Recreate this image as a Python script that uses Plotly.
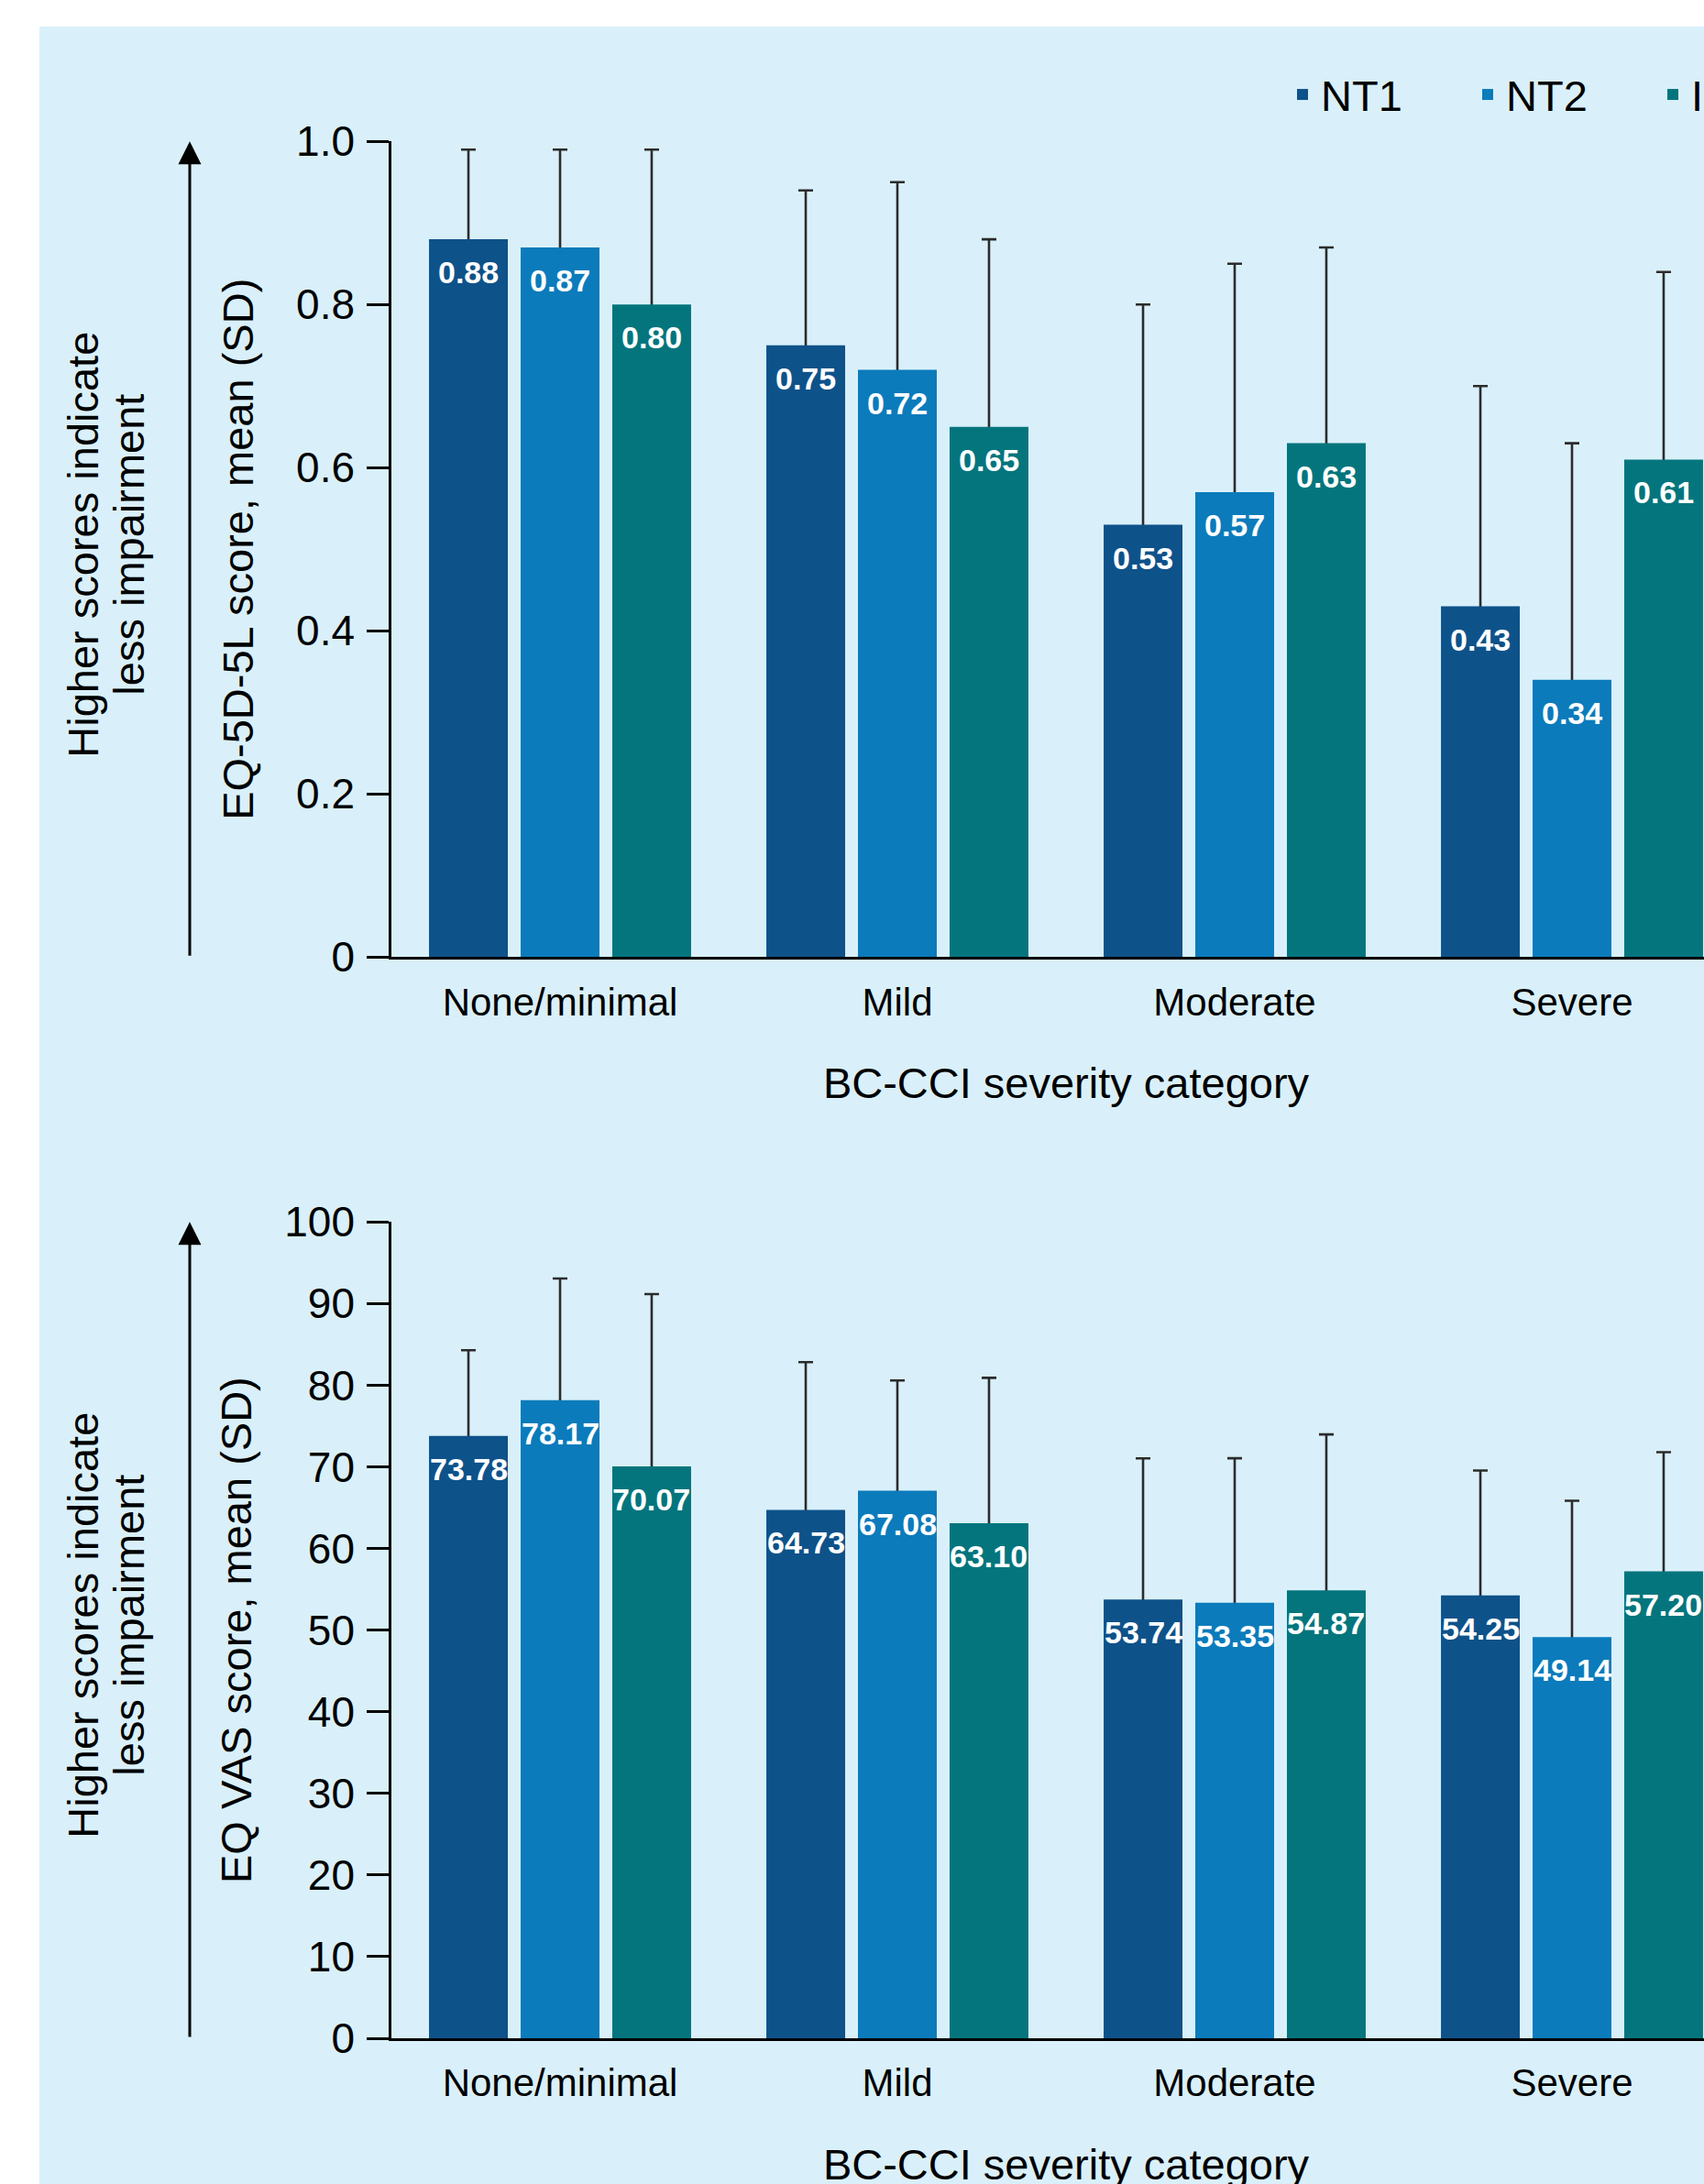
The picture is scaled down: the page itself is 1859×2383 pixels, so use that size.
import plotly.graph_objects as go

# ---------------- data ----------------
categories = ["None/minimal", "Mild", "Moderate", "Severe"]
series_names = ["NT1", "NT2", "IH"]
series_colors = ["#0E528A", "#0B7BBB", "#04757D"]

eq5d_nt1 = [0.88, 0.75, 0.53, 0.43]
eq5d_nt2 = [0.87, 0.72, 0.57, 0.34]
eq5d_ih = [0.80, 0.65, 0.63, 0.61]
eq5d_sd_nt1 = [0.11, 0.19, 0.27, 0.27]
eq5d_sd_nt2 = [0.12, 0.23, 0.28, 0.29]
eq5d_sd_ih = [0.19, 0.23, 0.24, 0.23]

vas_nt1 = [73.78, 64.73, 53.74, 54.25]
vas_nt2 = [78.17, 67.08, 53.35, 49.14]
vas_ih = [70.07, 63.10, 54.87, 57.20]
vas_sd_nt1 = [10.5, 18.1, 17.3, 15.3]
vas_sd_nt2 = [14.9, 13.5, 17.7, 16.7]
vas_sd_ih = [21.1, 17.8, 19.1, 14.6]

eq5d_tickvals = [0, 0.2, 0.4, 0.6, 0.8, 1.0]
eq5d_ticktext = ["0", "0.2", "0.4", "0.6", "0.8", "1.0"]
vas_tickvals = [0, 10, 20, 30, 40, 50, 60, 70, 80, 90, 100]

eq5d_means = [eq5d_nt1, eq5d_nt2, eq5d_ih]
eq5d_sds = [eq5d_sd_nt1, eq5d_sd_nt2, eq5d_sd_ih]
vas_means = [vas_nt1, vas_nt2, vas_ih]
vas_sds = [vas_sd_nt1, vas_sd_nt2, vas_sd_ih]

# ---------------- layout constants (pixels) ----------------
W, H = 1960, 2450
PL, PR = 427, 1899
PW = PR - PL
FONT = "Liberation Sans, Arial, Helvetica, sans-serif"
BG = "#D9F0FA"
BARGAP = 0.185
BARGROUPGAP = 0.14


def px_x(p):
    return (p - PL) / PW


def px_y(p):
    return 1 - p / H


top_dom = [px_y(1044.3), px_y(154.3)]
bot_dom = [px_y(2224.0), px_y(1333.3)]

fig = go.Figure()

err_style = dict(type="data", symmetric=False, color="#2B2B2B", thickness=2.6, width=8)

panels = [
    ("x", "y", eq5d_means, eq5d_sds, True, 0.012),
    ("x2", "y2", vas_means, vas_sds, False, 1.2),
]
for xa, ya, means, sds, legend_on, hidden_tail in panels:
    # whiskers (upper SD) drawn first so that the bars cover their lower end
    for k, name in enumerate(series_names):
        fig.add_trace(go.Bar(
            x=categories, y=means[k], name=name, offsetgroup=str(k),
            marker=dict(color="rgba(0,0,0,0)", line=dict(width=0)),
            error_y=dict(array=sds[k], arrayminus=[hidden_tail] * len(categories), **err_style),
            xaxis=xa, yaxis=ya, showlegend=False, hoverinfo="skip",
        ))
    for k, name in enumerate(series_names):
        fig.add_trace(go.Bar(
            x=categories, y=means[k], name=name, offsetgroup=str(k),
            marker=dict(color=series_colors[k], line=dict(width=0)),
            xaxis=xa, yaxis=ya, legendgroup=name, showlegend=legend_on,
        ))

annotations = []
slot = (1 - BARGAP) / len(series_names)
for xa, ya, means, sds, legend_on, hidden_tail in panels:
    for k in range(len(series_names)):
        for i in range(len(categories)):
            annotations.append(dict(
                x=i + (k - 1) * slot, y=means[k][i], xref=xa, yref=ya,
                text=f"{means[k][i]:.2f}", showarrow=False, yanchor="top", xanchor="center",
                yshift=-15, font=dict(family=FONT, size=34, color="white", weight="bold")))

# direction arrows + side text
arrow_x = px_x(207)
for yref, top in (("y", eq5d_tickvals[-1]), ("y2", vas_tickvals[-1])):
    annotations.append(dict(
        x=arrow_x, y=top, xref="paper", yref=yref, ax=0, ay=0, axref="pixel", ayref=yref,
        text="", showarrow=True, arrowhead=2, arrowsize=1.667, arrowwidth=3, arrowcolor="#000000"))

for yc in (594, 1773):
    annotations.append(dict(
        x=px_x(89.7), y=px_y(yc), xref="paper", yref="paper", text="Higher scores indicate",
        textangle=-90, showarrow=False, xanchor="center", yanchor="middle",
        font=dict(family=FONT, size=47, color="#000000")))
    annotations.append(dict(
        x=px_x(139.7), y=px_y(yc), xref="paper", yref="paper", text="less impairment",
        textangle=-90, showarrow=False, xanchor="center", yanchor="middle",
        font=dict(family=FONT, size=47, color="#000000")))

common_x = dict(
    type="category", range=[-0.5, 3.5], showline=True, linecolor="#000000", linewidth=2.6,
    ticks="", showgrid=False, zeroline=False, automargin=False, ticklabelstandoff=10,
    tickfont=dict(family=FONT, size=42, color="#000000"),
)
common_y = dict(
    showline=True, linecolor="#000000", linewidth=2.6, ticks="outside", ticklen=24,
    tickwidth=2.6, tickcolor="#000000", showgrid=False, zeroline=False, automargin=False,
    ticklabelstandoff=4,
    tickfont=dict(family=FONT, size=46, color="#000000"),
)

fig.update_layout(
    width=W, height=H,
    margin=dict(l=PL, r=W - PR, t=0, b=0, autoexpand=False),
    paper_bgcolor="#FFFFFF", plot_bgcolor="rgba(0,0,0,0)",
    barmode="group", bargap=BARGAP, bargroupgap=BARGROUPGAP,
    font=dict(family=FONT, color="#000000"),
    xaxis=dict(domain=[0, 1], anchor="y",
               title=dict(text="BC-CCI severity category", font=dict(family=FONT, size=47), standoff=50),
               **common_x),
    yaxis=dict(domain=top_dom, anchor="x", range=[0, 1.0], tickvals=eq5d_tickvals, ticktext=eq5d_ticktext,
               title=dict(text="EQ-5D-5L score, mean (SD)", font=dict(family=FONT, size=47), standoff=32),
               **common_y),
    xaxis2=dict(domain=[0, 1], anchor="y2",
                title=dict(text="BC-CCI severity category", font=dict(family=FONT, size=47), standoff=50),
                **common_x),
    yaxis2=dict(domain=bot_dom, anchor="x2", range=[0, 100], tickvals=vas_tickvals,
                title=dict(text="EQ VAS score, mean (SD)", font=dict(family=FONT, size=47), standoff=21),
                **common_y),
    legend=dict(orientation="h", x=px_x(1401), xanchor="left", y=px_y(103.5), yanchor="middle",
                font=dict(family=FONT, size=47, color="#000000"), entrywidth=157,
                bgcolor="rgba(0,0,0,0)", traceorder="normal"),
    shapes=[dict(type="rect", xref="paper", yref="paper", x0=px_x(43), x1=1.5, y0=-0.2, y1=px_y(29),
                 fillcolor=BG, line=dict(width=0), layer="below")],
    annotations=annotations,
)

fig.write_html("out.html", config={"displayModeBar": False},
               post_script="document.body.style.margin='0';document.body.style.overflow='hidden';")
